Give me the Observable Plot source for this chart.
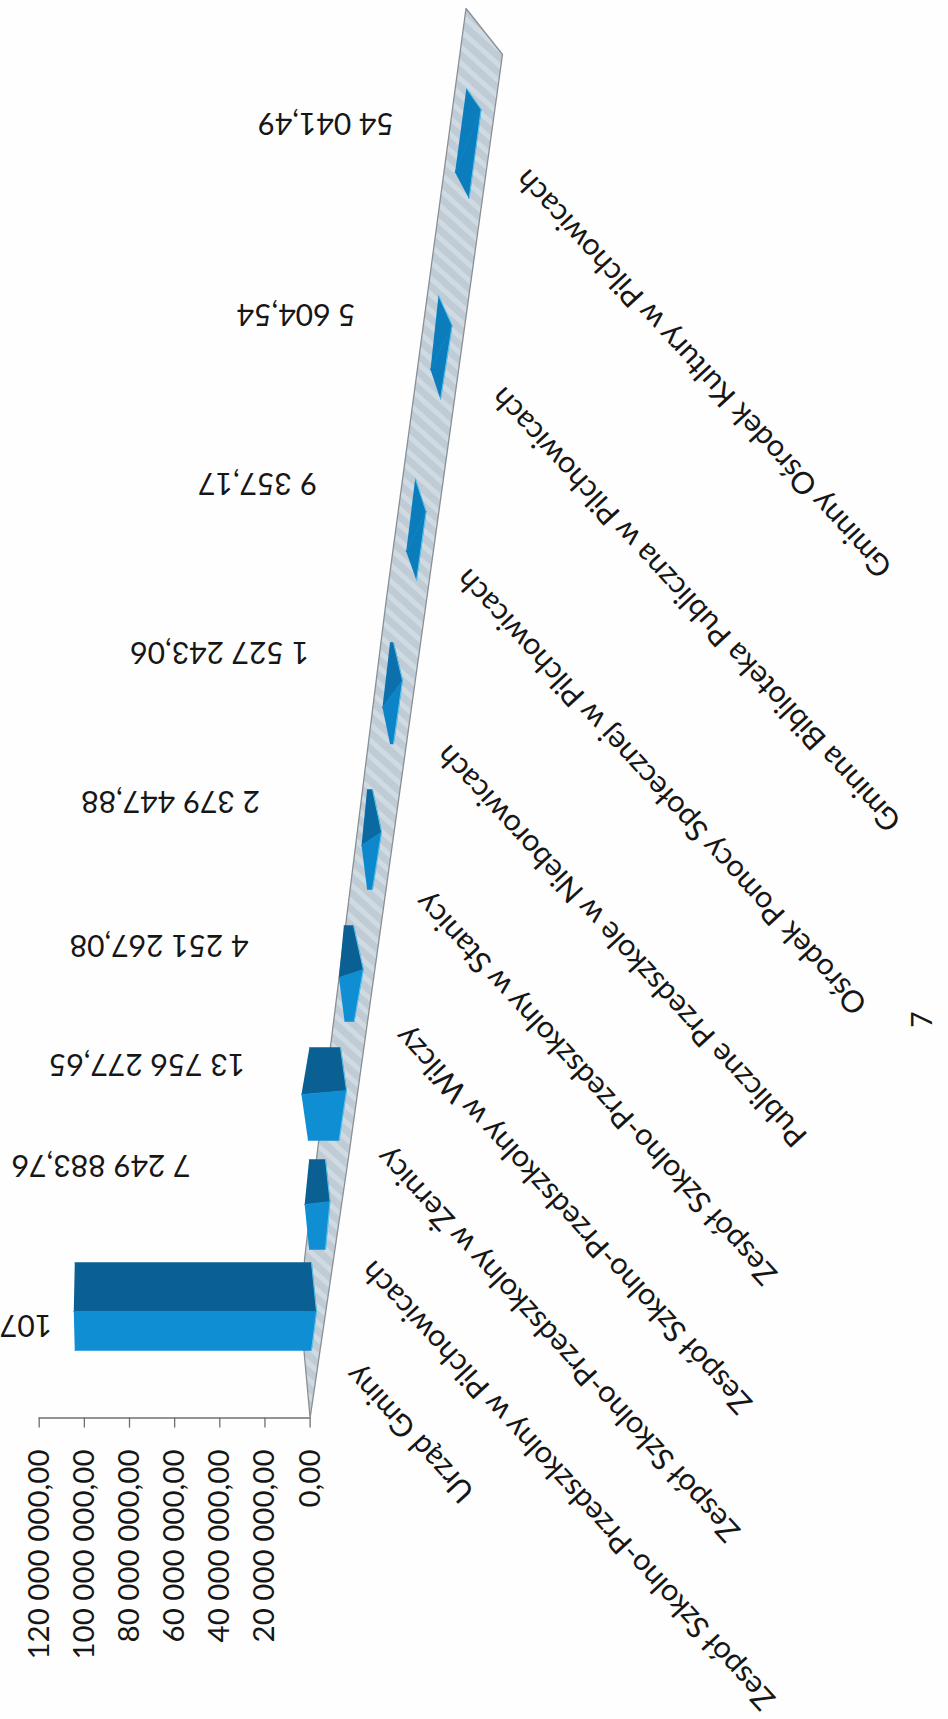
<!DOCTYPE html>
<html lang="pl">
<head>
<meta charset="utf-8">
<title>Wydatki jednostek gminy</title>
<script src="https://cdn.jsdelivr.net/npm/d3@7"></script>
<script src="https://cdn.jsdelivr.net/npm/@observablehq/plot@0.6"></script>
<style>
  html, body { margin: 0; padding: 0; background: #fefefe; }
  svg { display: block; }
</style>
</head>
<body>
<div id="chart"></div>
<script>
// ---- data ----
const categories = [
  "Urząd Gminy",
  "Zespół Szkolno-Przedszkolny w Pilchowicach",
  "Zespół Szkolno-Przedszkolny w Żernicy",
  "Zespół Szkolno-Przedszkolny w Wilczy",
  "Zespół Szkolno-Przedszkolny w Stanicy",
  "Publiczne Przedszkole w Nieborowicach",
  "Ośrodek Pomocy Społecznej w Pilchowicach",
  "Gminna Biblioteka Publiczna w Pilchowicach",
  "Gminny Ośrodek Kultury w Pilchowicach"
];
const values = [107000000, 7249883.76, 13756277.65, 4251267.08, 2379447.88, 1527243.06, 9357.17, 5604.54, 54041.49];
const valueLabels = ["107", "7 249 883,76", "13 756 277,65", "4 251 267,08", "2 379 447,88", "1 527 243,06", "9 357,17", "5 604,54", "54 041,49"];
const tickValues = [0, 20000000, 40000000, 60000000, 80000000, 100000000, 120000000];
const tickLabels = ["0,00", "20 000 000,00", "40 000 000,00", "60 000 000,00", "80 000 000,00", "100 000 000,00", "120 000 000,00"];
const pageNumber = "7";

// ---- the tilted 3-D projection of the scanned page (page pixels) ----
const W = 948, H = 1719;
const x0 = 309.6, x120 = 38.7, vMax = 120000000;
const toValue = px => (x0 - px) / (x0 - x120) * vMax;
const footprints = [ // top, right, bottom, left corner of each bar's base
  [[311, 1262], [316, 1311], [311, 1350], [310, 1311]],
  [[325, 1159], [329.5, 1201], [325, 1249], [320.5, 1204]],
  [[340, 1047], [346, 1090], [338.6, 1140], [332, 1094]],
  [[353, 925], [362.8, 969], [353.7, 1021], [348, 977]],
  [[372, 789], [381, 831.5], [372, 889], [366.4, 845]],
  [[393, 642], [402, 680], [393, 743.5], [385.4, 707]],
  [[414.8, 478], [425.6, 511], [416, 580], [405.7, 551]],
  [[438, 295], [451.6, 325], [440, 399], [430, 369]],
  [[466, 88], [480.6, 109], [468.6, 198], [454.7, 172]]
];
const valueLabelAt = [[25.5, 1324], [100.5, 1164.5], [146.5, 1063], [158.5, 944.5], [170, 800.5], [219, 651.5], [257, 482.5], [295.6, 313.5], [325, 122.5]];
const categoryLabelAt = [[468, 1497], [769, 1704], [734, 1536], [746, 1408], [771, 1279], [801, 1141], [861, 1009], [895, 826], [886, 572]];
const floorOutline = [[465.5, 8], [502, 54], [426, 600], [349, 1150], [309.6, 1417.4], [303, 1345], [304, 1259], [317, 1150], [385.7, 600]];
const axisDepth = 1417.4, tickEnd = 1427.6, tickLabelEnd = 1449;
const textAngle = 227.5;
const font = "Lato, 'Open Sans', sans-serif";
const ink = "#161616";

const shade = (from, to, h) => d3.interpolateRgb(from, to)(Math.min(1, h / 8));
const poly = (pts, options) => Plot.line(pts, {x: d => toValue(d[0]), y: d => d[1], curve: "linear", ...options});

const barMarks = values.flatMap((v, i) => {
  const k = i === 0 ? 0.98 : 1;                 // perspective shrink of the tall bar
  const h = v / vMax * (x0 - x120) * k;
  const [t, r, b, l] = footprints[i];
  const up = p => [p[0] - h, p[1]];
  return [
    poly([up(t), t, r, up(l)], {fill: shade("#0b7dbd", "#0a5f93", h), stroke: shade("#0b7dbd", "#0a5f93", h), strokeWidth: 0.5}),
    poly([up(l), r, b, up(b)], {fill: shade("#0b7dbd", "#0f8ed4", h), stroke: shade("#0b7dbd", "#0f8ed4", h), strokeWidth: 0.5}),
    poly([t, r, b], {stroke: "#56c6ef", strokeWidth: 1})
  ];
});

const chart = Plot.plot({
  width: W, height: H,
  marginTop: 0, marginRight: 0, marginBottom: 0, marginLeft: 0,
  style: {background: "#fefefe", fontFamily: font, color: ink},
  x: {domain: [0, vMax], range: [x0, x120], axis: null},
  y: {domain: [0, H], range: [0, H], axis: null},
  marks: [
    poly(floorOutline.concat([floorOutline[0]]), {fill: "url(#floorHatch)", stroke: "#8a8f93", strokeWidth: 1.3}),
    ...barMarks,
    Plot.ruleY([axisDepth], {x1: 0, x2: vMax, stroke: "#6f6f6f", strokeWidth: 1.5}),
    Plot.ruleX(tickValues, {x: d => d, y1: axisDepth, y2: tickEnd, stroke: "#6f6f6f", strokeWidth: 1.3}),
    Plot.text(tickLabels, {x: (d, i) => tickValues[i], y: tickLabelEnd, text: d => d, rotate: -90, textAnchor: "end", fontSize: 29.5, fill: ink}),
    Plot.text(valueLabels, {x: (d, i) => toValue(valueLabelAt[i][0]), y: (d, i) => valueLabelAt[i][1], text: d => d, rotate: 180, textAnchor: "middle", fontSize: 30, fill: ink}),
    Plot.text(categories, {x: (d, i) => toValue(categoryLabelAt[i][0]), y: (d, i) => categoryLabelAt[i][1], text: d => d, rotate: textAngle, textAnchor: "start", fontSize: 30.4, fill: ink}),
    Plot.text([pageNumber], {x: toValue(923), y: 1019, text: d => d, rotate: -90, fontSize: 28, fill: ink})
  ]
});

// striped fill of the chart floor
const ns = "http://www.w3.org/2000/svg";
const defs = document.createElementNS(ns, "defs");
defs.innerHTML = `<pattern id="floorHatch" patternUnits="userSpaceOnUse" width="12" height="12" patternTransform="rotate(42)">
  <rect width="12" height="12" fill="#c0ccd5"/><rect width="12" height="5" fill="#cfdae2"/></pattern>`;
chart.insertBefore(defs, chart.firstChild);
document.getElementById("chart").appendChild(chart);
</script>
</body>
</html>
